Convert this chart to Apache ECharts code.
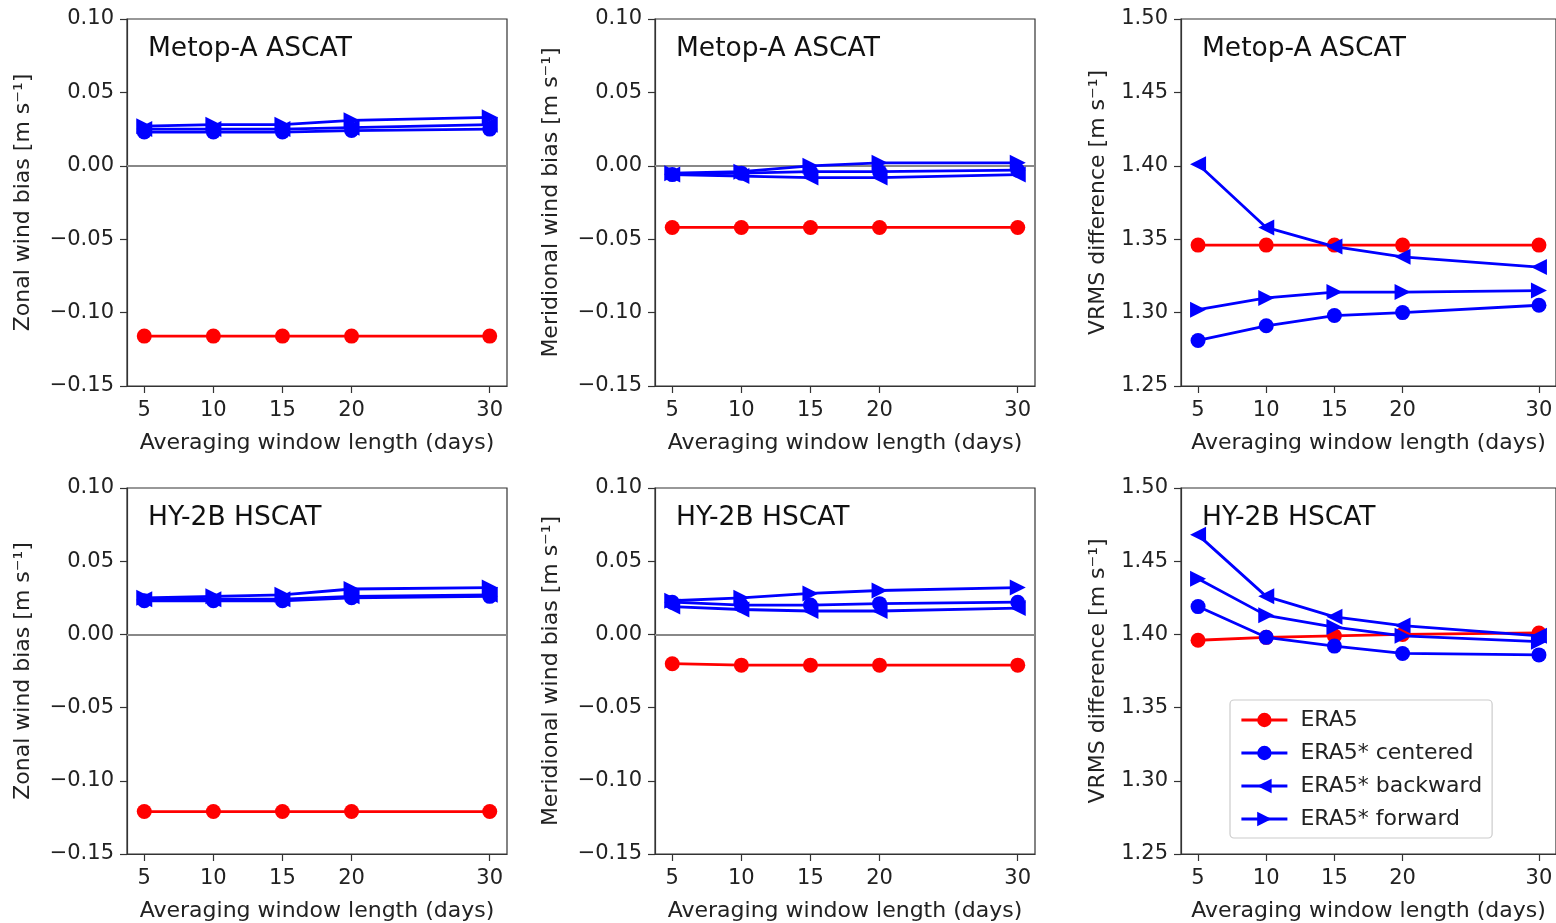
<!DOCTYPE html>
<html><head><meta charset="utf-8">
<script src="https://cdn.jsdelivr.net/npm/echarts@6/dist/echarts.min.js"></script>
<style>html,body{margin:0;padding:0;background:#fff}#c{width:1556px;height:923px}</style>
</head><body><div id="c"></div>
<script>
// ---------------- data ----------------
const windows = [5, 10, 15, 20, 30];
const xTickValues = [5, 10, 15, 20, 30];
const biasTicks = [-0.15, -0.10, -0.05, 0.00, 0.05, 0.10];
const vrmsTicks = [1.25, 1.30, 1.35, 1.40, 1.45, 1.50];
const seriesNames = ['ERA5', 'ERA5* centered', 'ERA5* backward', 'ERA5* forward'];
const panelTitles = ['Metop-A ASCAT', 'Metop-A ASCAT', 'Metop-A ASCAT', 'HY-2B HSCAT', 'HY-2B HSCAT', 'HY-2B HSCAT'];
const yLabels = ['Zonal wind bias [m s\u207B\u00B9]', 'Meridional wind bias [m s\u207B\u00B9]', 'VRMS difference [m s\u207B\u00B9]'];
const xLabel = 'Averaging window length (days)';

// Metop-A ASCAT, zonal bias
const ascatZonalEra5     = [-0.116, -0.116, -0.116, -0.116, -0.116];
const ascatZonalCentered = [0.023, 0.023, 0.023, 0.024, 0.025];
const ascatZonalBackward = [0.025, 0.025, 0.025, 0.026, 0.028];
const ascatZonalForward  = [0.027, 0.028, 0.028, 0.031, 0.033];
// Metop-A ASCAT, meridional bias
const ascatMeridEra5     = [-0.042, -0.042, -0.042, -0.042, -0.042];
const ascatMeridCentered = [-0.006, -0.005, -0.004, -0.004, -0.003];
const ascatMeridBackward = [-0.006, -0.007, -0.008, -0.008, -0.006];
const ascatMeridForward  = [-0.005, -0.004, 0.000, 0.002, 0.002];
// Metop-A ASCAT, VRMS
const ascatVrmsEra5      = [1.346, 1.346, 1.346, 1.346, 1.346];
const ascatVrmsCentered  = [1.281, 1.291, 1.298, 1.300, 1.305];
const ascatVrmsBackward  = [1.401, 1.358, 1.345, 1.338, 1.331];
const ascatVrmsForward   = [1.302, 1.310, 1.314, 1.314, 1.315];
// HY-2B HSCAT, zonal bias
const hscatZonalEra5     = [-0.121, -0.121, -0.121, -0.121, -0.121];
const hscatZonalCentered = [0.023, 0.023, 0.023, 0.025, 0.026];
const hscatZonalBackward = [0.024, 0.024, 0.024, 0.026, 0.027];
const hscatZonalForward  = [0.025, 0.026, 0.027, 0.031, 0.032];
// HY-2B HSCAT, meridional bias
const hscatMeridEra5     = [-0.020, -0.021, -0.021, -0.021, -0.021];
const hscatMeridCentered = [0.022, 0.020, 0.020, 0.021, 0.022];
const hscatMeridBackward = [0.019, 0.017, 0.016, 0.016, 0.018];
const hscatMeridForward  = [0.023, 0.025, 0.028, 0.030, 0.032];
// HY-2B HSCAT, VRMS
const hscatVrmsEra5      = [1.396, 1.398, 1.399, 1.400, 1.401];
const hscatVrmsCentered  = [1.419, 1.398, 1.392, 1.387, 1.386];
const hscatVrmsBackward  = [1.468, 1.426, 1.412, 1.406, 1.399];
const hscatVrmsForward   = [1.438, 1.413, 1.405, 1.399, 1.395];

const panels = [
  [ascatZonalEra5, ascatZonalCentered, ascatZonalBackward, ascatZonalForward],
  [ascatMeridEra5, ascatMeridCentered, ascatMeridBackward, ascatMeridForward],
  [ascatVrmsEra5, ascatVrmsCentered, ascatVrmsBackward, ascatVrmsForward],
  [hscatZonalEra5, hscatZonalCentered, hscatZonalBackward, hscatZonalForward],
  [hscatMeridEra5, hscatMeridCentered, hscatMeridBackward, hscatMeridForward],
  [hscatVrmsEra5, hscatVrmsCentered, hscatVrmsBackward, hscatVrmsForward]
];

// ---------------- layout / style ----------------
const FONT = 'DejaVu Sans';
const FS = 22;
const colLeft = [127, 655, 1181];
const rowTop = [19, 488];
const W = 380, H = 367;
const colors = ['#ff0000', '#0000ff', '#0000ff', '#0000ff'];
const symbols = ['circle', 'circle', 'triangle', 'triangle'];
const rotations = [0, 0, 90, -90];
const sizes = [15, 15, 16, 16];

function fmt(v) {
  if (Math.abs(v) < 1e-9) v = 0;
  return (v < 0 ? '\u2212' : '') + Math.abs(v).toFixed(2);
}

const grids = [], xAxes = [], yAxes = [], series = [], titles = [];
for (let p = 0; p < 6; p++) {
  const col = p % 3, row = Math.floor(p / 3);
  const isVrms = col === 2;
  const ticks = isVrms ? vrmsTicks : biasTicks;
  grids.push({left: colLeft[col], top: rowTop[row], width: W + (col === 2 ? 1 : 0), height: H,
    show: true, borderColor: '#333', borderWidth: 1.2, backgroundColor: 'transparent', containLabel: false});
  xAxes.push({type: 'value', gridIndex: p, min: 3.75, max: 31.25,
    name: xLabel, nameLocation: 'middle', nameGap: 46,
    nameTextStyle: {fontFamily: FONT, fontSize: FS, color: '#222'},
    axisLine: {show: true, onZero: false, lineStyle: {color: '#333', width: 1.2}},
    axisTick: {show: true, inside: false, length: 7, customValues: xTickValues, lineStyle: {color: '#333', width: 1.2}},
    axisLabel: {show: true, customValues: xTickValues, margin: 14, fontFamily: FONT, fontSize: 21, color: '#222'},
    splitLine: {show: false}});
  yAxes.push({type: 'value', gridIndex: p, min: ticks[0], max: ticks[ticks.length - 1], interval: 0.05,
    name: yLabels[col], nameLocation: 'middle', nameRotate: 90, nameGap: isVrms ? 72 : 93,
    nameTextStyle: {fontFamily: FONT, fontSize: FS, color: '#222'},
    axisLine: {show: true, onZero: false, lineStyle: {color: '#333', width: 1.2}},
    axisTick: {show: true, inside: false, length: 7, lineStyle: {color: '#333', width: 1.2}},
    axisLabel: {show: true, margin: 13, fontFamily: FONT, fontSize: 21, color: '#222', formatter: fmt},
    splitLine: {show: false}});
  titles.push({text: panelTitles[p], left: colLeft[col] + 16, top: rowTop[row] + 12,
    textStyle: {fontFamily: FONT, fontSize: 26.5, fontWeight: 'normal', color: '#111'}});
  panels[p].forEach((vals, s) => {
    const ser = {
      type: 'line', name: seriesNames[s], xAxisIndex: p, yAxisIndex: p,
      data: windows.map((w, j) => [w, vals[j]]),
      symbol: symbols[s], symbolSize: sizes[s], symbolRotate: rotations[s], showSymbol: true,
      lineStyle: {color: colors[s], width: 2.8},
      itemStyle: {color: colors[s]},
      animation: false, clip: false, z: 3 + s
    };
    if (s === 0 && !isVrms) {
      ser.markLine = {silent: true, symbol: 'none', animation: false, label: {show: false},
        lineStyle: {color: '#888', width: 1.8, type: 'solid'}, z: 1,
        data: [{yAxis: 0}]};
    }
    series.push(ser);
  });
}

const chart = echarts.init(document.getElementById('c'), null, {renderer: 'canvas'});
chart.setOption({
  animation: false,
  backgroundColor: '#fff',
  title: titles,
  grid: grids,
  xAxis: xAxes,
  yAxis: yAxes,
  legend: {
    show: true, orient: 'vertical', left: 1230, top: 700,
    data: seriesNames,
    itemWidth: 46, itemHeight: 18, itemGap: 11,
    padding: [9, 10, 8, 10],
    lineStyle: {width: 2.8},
    backgroundColor: 'rgba(255,255,255,0.8)', borderColor: '#ccc', borderWidth: 1.2, borderRadius: 4,
    textStyle: {fontFamily: FONT, fontSize: FS, color: '#222', padding: [0, 0, 0, 8]},
    selectedMode: false
  },
  series: series
});
</script></body></html>
